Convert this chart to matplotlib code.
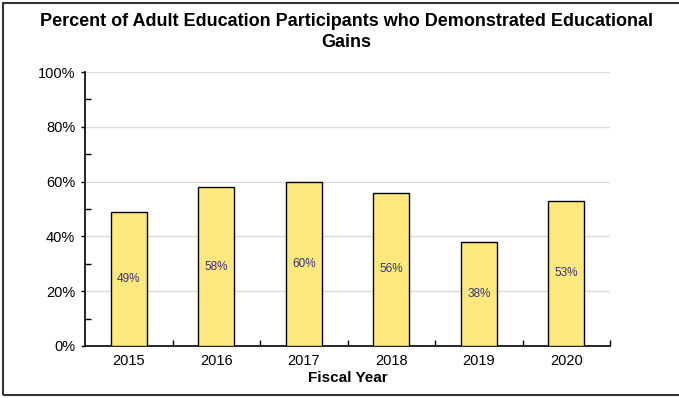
import matplotlib
matplotlib.use('Agg')
import matplotlib.pyplot as plt
from matplotlib.patches import Rectangle
from matplotlib.ticker import MultipleLocator, FuncFormatter

plt.rcParams['font.family'] = ['Liberation Sans', 'DejaVu Sans']

# gains by fiscal year
years = ['2015', '2016', '2017', '2018', '2019', '2020']
gains = [49, 58, 60, 56, 38, 53]

fig = plt.figure(figsize=(6.79, 3.98), dpi=100)
ax = fig.add_axes([0.1252, 0.1307, 0.7732, 0.6883])

x = list(range(len(years)))
ax.bar(x, gains, width=0.41, color='#FFE97F', edgecolor='black', linewidth=1, zorder=3)

for xi, v in zip(x, gains):
    ax.text(xi, v / 2, f'{v}%', ha='center', va='center', fontsize=8.5,
            color='#33337a', zorder=4)

ax.set_xlim(-0.5, len(years) - 0.5)
ax.set_ylim(0, 100)
ax.set_xticks(x)
ax.set_xticklabels(years, fontsize=10.5)
ax.set_xticks([i - 0.5 for i in range(1, len(years) + 1)], minor=True)
ax.tick_params(axis='x', which='major', length=0, pad=6)
ax.tick_params(axis='x', which='minor', direction='in', length=4, width=1)

ax.yaxis.set_major_locator(MultipleLocator(20))
ax.yaxis.set_minor_locator(MultipleLocator(10))
ax.yaxis.set_major_formatter(FuncFormatter(lambda v, p: f'{v:.0f}%'))
ax.tick_params(axis='y', which='major', direction='out', length=3, width=1, labelsize=10.5, pad=4)
ax.tick_params(axis='y', which='minor', direction='in', length=4, width=1)

ax.grid(axis='y', which='major', color='#dcdcdc', linewidth=1, zorder=0)
for s in ['top', 'right']:
    ax.spines[s].set_visible(False)
for s in ['left', 'bottom']:
    ax.spines[s].set_linewidth(1.2)

ax.set_xlabel('Fiscal Year', fontsize=11, fontweight='bold', labelpad=2)

fig.suptitle('Percent of Adult Education Participants who Demonstrated Educational\nGains',
             x=0.51, y=0.968, fontsize=13, fontweight='bold', linespacing=1.3)

# frame around the figure
fig.patches.append(Rectangle((0.005, 0.008), 1.2, 0.984, transform=fig.transFigure,
                             fill=False, edgecolor='#333333', linewidth=1.5))

fig.savefig('out.png', dpi=100)
